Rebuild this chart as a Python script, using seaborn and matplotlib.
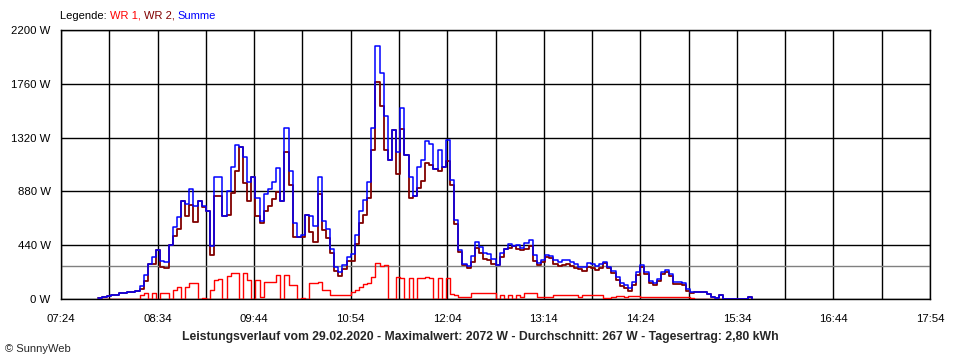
import numpy as np
import pandas as pd
import matplotlib
matplotlib.use('Agg')
import matplotlib.pyplot as plt
from matplotlib.ticker import FixedLocator, FuncFormatter
import seaborn as sns

start_min = 7 * 60 + 51
schritt = 3

summe = [
    5, 15, 25, 30, 35, 45, 50, 55, 60, 65,
    110, 200, 290, 340, 400, 310, 300, 440, 590, 670,
    800, 780, 900, 760, 800, 760, 720, 430, 1000, 1000,
    680, 880, 1080, 1260, 1240, 1160, 960, 1000, 830, 640,
    860, 900, 960, 1070, 800, 1400, 1050, 620, 510, 520,
    690, 680, 600, 1000, 640, 570, 410, 260, 220, 280,
    340, 370, 520, 720, 810, 960, 1400, 2072, 1850, 1500,
    1140, 1380, 1200, 1560, 1180, 1000, 840, 1080, 1140, 1290,
    1270, 1060, 1220, 1080, 1300, 970, 650, 400, 290, 270,
    350, 470, 425, 376, 370, 330, 280, 380, 410, 450,
    430, 440, 420, 460, 480, 360, 294, 320, 360, 355,
    320, 303, 315, 320, 300, 290, 258, 265, 295, 290,
    270, 290, 300, 260, 225, 180, 131, 114, 90, 140,
    220, 278, 220, 150, 131, 165, 220, 237, 205, 140,
    140, 131, 80, 57, 57, 57, 60, 40, 14, 8,
    30, 0, 0, 0, 0, 0, 0, 16, 0,
]

wr1 = [
    0, 0, 0, 0, 0, 0, 0, 0, 0, 0,
    30, 50, 0, 50, 0, 50, 50, 0, 74, 98,
    0, 98, 131, 131, 0, 10, 0, 74, 155, 160,
    0, 190, 212, 212, 0, 212, 155, 0, 155, 20,
    139, 139, 139, 196, 0, 196, 114, 114, 0, 10,
    0, 131, 131, 140, 74, 74, 33, 33, 30, 33,
    33, 57, 70, 98, 120, 131, 180, 294, 270, 280,
    0, 0, 180, 172, 0, 172, 0, 172, 172, 180,
    172, 0, 172, 0, 172, 40, 33, 16, 16, 16,
    49, 49, 49, 49, 49, 45, 0, 33, 0, 33,
    0, 33, 16, 49, 49, 49, 16, 16, 16, 16,
    33, 33, 33, 33, 33, 33, 16, 33, 33, 33,
    33, 33, 5, 5, 16, 25, 25, 20, 25, 25,
    25, 16, 16, 16, 16, 16, 16, 16, 16, 16,
    16, 16, 16, 5, 0, 0, 0, 0, 0, 0,
    0, 0, 0, 0, 0, 0, 0, 0, 0,
]

durchschnitt = 267
titel = ('Leistungsverlauf vom 29.02.2020 - Maximalwert: 2072 W - '
         'Durchschnitt: 267 W - Tagesertrag: 2,80 kWh')

W, H = 960, 360
x_von, x_bis = 7 * 60 + 24, 17 * 60 + 54


def hhmm(v, pos=None):
    v = int(round(v))
    return '%02d:%02d' % (v // 60, v % 60)


def main():
    minuten = start_min + schritt * np.arange(len(summe))
    df = pd.DataFrame({'min': minuten, 'WR 1': wr1, 'Summe': summe})
    df['WR 2'] = (df['Summe'] - df['WR 1']).clip(lower=0)

    sns.set_style('white')
    plt.rcParams['font.family'] = ['Liberation Sans', 'DejaVu Sans']

    fig = plt.figure(figsize=(W / 100, H / 100), dpi=100)
    ax = fig.add_axes([61 / W, 1 - 299 / H, 869 / W, 269 / H])

    ax.axhline(durchschnitt, color='#808080', lw=1, zorder=1.5)
    sns.lineplot(data=df, x='min', y='WR 1', color='#ff0000', lw=1,
                 drawstyle='steps-post', ax=ax, zorder=3)
    sns.lineplot(data=df, x='min', y='WR 2', color='#800000', lw=1.3,
                 drawstyle='steps-post', ax=ax, zorder=3)
    sns.lineplot(data=df, x='min', y='Summe', color='#0000ff', lw=1.1,
                 drawstyle='steps-post', ax=ax, zorder=4)

    ax.set_xlim(x_von, x_bis)
    ax.set_ylim(0, 2200)
    ax.xaxis.set_major_locator(FixedLocator(np.arange(x_von, x_bis + 1, 70)))
    ax.xaxis.set_minor_locator(FixedLocator(np.arange(x_von + 35, x_bis, 70)))
    ax.xaxis.set_major_formatter(FuncFormatter(hhmm))
    ax.yaxis.set_major_locator(FixedLocator(np.arange(0, 2201, 440)))
    ax.yaxis.set_major_formatter(FuncFormatter(lambda v, p: '%d W' % v))
    ax.set_xlabel('')
    ax.set_ylabel('')

    ax.set_axisbelow(True)
    ax.grid(True, which='both', color='black', lw=1)
    ax.tick_params(axis='both', which='both', direction='out', length=4.5,
                   width=1, color='black', labelsize=8.2, labelcolor='black')
    ax.tick_params(axis='x', pad=6)
    ax.tick_params(axis='y', pad=3)
    for s in ax.spines.values():
        s.set_color('black')
        s.set_linewidth(1)

    # Legende als farbige Textstücke
    teile = [('Legende: ', 'black'), ('WR 1, ', '#ff0000'),
             ('WR 2, ', '#800000'), ('Summe', '#0000ff')]
    x = 60 / W
    fig.canvas.draw()
    r = fig.canvas.get_renderer()
    for txt, c in teile:
        t = fig.text(x, 1 - 16 / H, txt, color=c, fontsize=8, va='center')
        bb = t.get_window_extent(renderer=r)
        x = bb.x1 / W

    fig.text(480 / W, 1 - 337 / H, titel, ha='center', va='center',
             fontsize=8.8, fontweight='bold')
    fig.text(5 / W, 1 - 349 / H, '\u00a9 SunnyWeb', fontsize=8, va='center')

    fig.savefig('out.png', dpi=100, facecolor='white')


if __name__ == '__main__':
    main()
